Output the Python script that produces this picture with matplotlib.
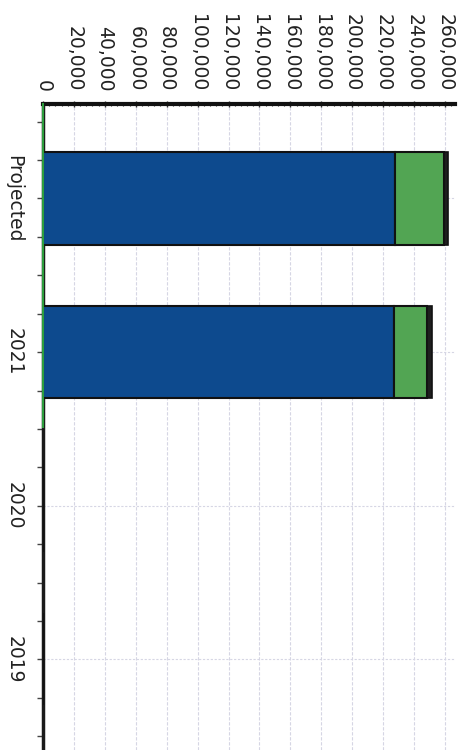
import matplotlib
matplotlib.use("Agg")
import matplotlib.pyplot as plt
from matplotlib.ticker import MultipleLocator, FuncFormatter

categories = ["Projected", "2021", "2020", "2019"]
series_a = [228000, 227000, 0, 0]   # blue
series_b = [31500, 21400, 0, 0]     # green
series_c = [2500, 3200, 0, 0]       # dark cap
x_ticks = list(range(0, 260001, 20000))

blue = "#0d4a8e"
green = "#52a553"
dark = "#1e1e1e"

plt.rcParams["font.family"] = "DejaVu Sans"

fig = plt.figure(figsize=(4.66, 7.5), dpi=100)
ax = fig.add_axes([43 / 466, 0.0, (455 - 43) / 466, (750 - 104) / 750])

pos = list(range(len(categories)))
left_b = [a for a in series_a]
left_c = [a + b for a, b in zip(series_a, series_b)]
ax.barh(pos, series_a, height=0.6, color=blue, edgecolor="#111111", linewidth=1.5, zorder=3)
ax.barh(pos, series_b, left=left_b, height=0.6, color=green, edgecolor="#111111", linewidth=1.5, zorder=3)
ax.barh(pos, series_c, left=left_c, height=0.6, color=dark, edgecolor="#111111", linewidth=1.2, zorder=3)

ax.set_xlim(0, 266500)
ax.set_ylim(3.59, -0.615)

# axis on top, labels read top to bottom
ax.xaxis.tick_top()
ax.set_xticks(x_ticks)
ax.xaxis.set_minor_locator(MultipleLocator(4000))
ax.xaxis.set_major_formatter(FuncFormatter(lambda v, p: f"{int(v):,}"))
for lab in ax.get_xticklabels():
    lab.set_rotation(-90)
    lab.set_va("bottom")
    lab.set_ha("center")
ax.tick_params(axis="x", which="major", length=4, width=1, direction="inout", pad=7, labelsize=13.5,
               color="#333333", labelcolor="#222222")
ax.tick_params(axis="x", which="minor", length=2.5, width=0.8, direction="inout", color="#333333")

ax.set_yticks(pos)
ax.set_yticklabels(categories, rotation=-90, va="center", ha="right")
ax.yaxis.set_minor_locator(MultipleLocator(0.25))
ax.tick_params(axis="y", which="major", length=4, width=1, pad=10, labelsize=13.5,
               color="#444444", labelcolor="#222222")
ax.tick_params(axis="y", which="minor", length=4, width=1, color="#444444")

for s in ["right", "bottom"]:
    ax.spines[s].set_visible(False)
ax.spines["top"].set_linewidth(3)
ax.spines["top"].set_color("#111111")
ax.spines["left"].set_linewidth(2.5)
ax.spines["left"].set_color("#1a1a1a")
ax.axvline(0, ymin=0.5, ymax=1.0, color="#2e9e3e", linewidth=1.5, zorder=4, clip_on=False)

ax.grid(axis="x", which="major", color="#d6d6e4", linewidth=0.8, linestyle=(0, (3, 1.5)), zorder=0)
ax.grid(axis="y", which="major", color="#d6d6e4", linewidth=0.8, linestyle=(0, (2, 1.5)), zorder=0)

fig.savefig("out.png", dpi=100, facecolor="white")
